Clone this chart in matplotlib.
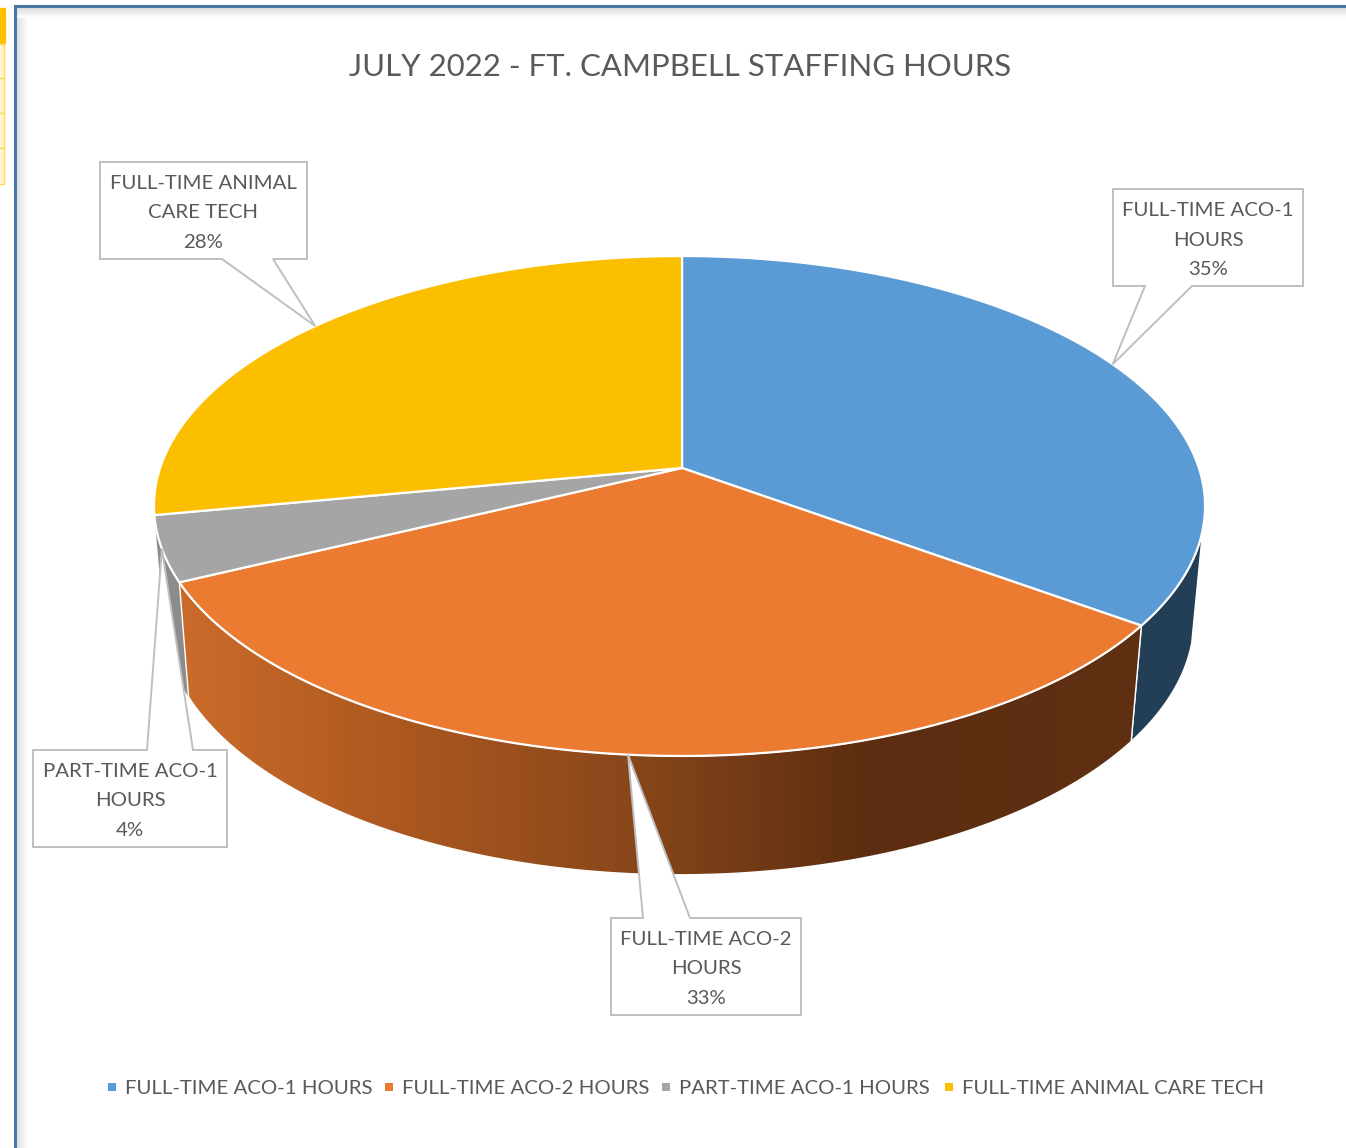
import matplotlib
matplotlib.use('Agg')
import matplotlib.pyplot as plt
from matplotlib.colors import LinearSegmentedColormap
from matplotlib.patches import Polygon, Rectangle
import numpy as np

plt.rcParams['font.family'] = ['Lato', 'DejaVu Sans']

title = 'JULY 2022 - FT. CAMPBELL STAFFING HOURS'
categories = ['FULL-TIME ACO-1 HOURS', 'FULL-TIME ACO-2 HOURS', 'PART-TIME ACO-1 HOURS', 'FULL-TIME ANIMAL CARE TECH']
callout_names = ['FULL-TIME ACO-1\nHOURS', 'FULL-TIME ACO-2\nHOURS', 'PART-TIME ACO-1\nHOURS', 'FULL-TIME ANIMAL\nCARE TECH']
shares = [35.0, 32.8, 4.2, 28.0]

top_colors = ['#5B9BD5', '#EB7B30', '#A5A5A5', '#FBBF00']
text_color = '#595959'
line_color = '#BFBFBF'

# the pie sits in perspective, so the rim is a circle through a simple projection
TOP = dict(cx=682, cy=468, a=519.4, b=244.2, lean=2.5)
BOTTOM = dict(cx=679, cy=580, a=509, b=250, lean=0)
TILT = 0.152
FIRST_VISIBLE = 104  # degrees clockwise from 12 o'clock where the side wall appears
LAST_VISIBLE = 259


def rim(deg, cx, cy, a, b, lean):
    t = np.radians(deg)
    u, v = np.sin(t), np.cos(t)
    w = 1 + TILT * v
    return np.column_stack([cx + a * u / w - lean * np.abs(u), cy - b * v / w])


def arc(start, end, ring):
    return rim(np.linspace(start, end, 200), **ring)


def wall(start, end):
    return np.vstack([arc(start, end, TOP), arc(end, start, BOTTOM)])


fig = plt.figure(figsize=(13.46, 11.48), dpi=100)
ax = fig.add_axes([0, 0, 1, 1])
ax.set_xlim(0, 1346)
ax.set_ylim(1148, 0)
ax.axis('off')

edges = 360 * np.cumsum([0] + shares) / sum(shares)
mids = (edges[:-1] + edges[1:]) / 2

# spreadsheet cells showing at the left of the screenshot
ax.add_patch(Rectangle((0, 8), 5, 35, color='#FFC000', zorder=1))
for y0, y1 in [(44, 78), (78, 113), (113, 148), (148, 184)]:
    ax.add_patch(Rectangle((-2, y0), 6, y1 - y0, fc='#FFF2CC', ec='#FFD966', lw=1, zorder=1))

# soft inner shadow of the chart frame
shade = LinearSegmentedColormap.from_list('shade', ['#DEDEDE', '#FFFFFF'])
fade = np.linspace(0, 1, 32)
ax.imshow(fade[None, :], extent=(16, 28, 1148, 8), cmap=shade, aspect='auto', zorder=1)
ax.imshow(fade[:, None], extent=(16, 1346, 18, 8), cmap=shade, aspect='auto', origin='upper', zorder=1)
ax.plot([14.5, 14.5, 1346], [1148, 6, 6], color='#4A78A6', lw=2.2, solid_joinstyle='miter', zorder=2)

# side walls
ax.add_patch(Polygon(wall(FIRST_VISIBLE, edges[1]), fc='#223F57', ec='white', lw=1, zorder=3))
ax.add_patch(Polygon(wall(edges[2], LAST_VISIBLE), fc='#8C8C8C', ec='none', zorder=3))

orange_shape = wall(edges[1], edges[2])
stops = [(170, '#CC6C2B'), (400, '#AC5820'), (640, '#87461A'), (870, '#5C2D10'), (1150, '#5F3012')]
span = stops[-1][0] - stops[0][0]
orange_map = LinearSegmentedColormap.from_list('wall', [((x - stops[0][0]) / span, c) for x, c in stops])
grad = ax.imshow(np.linspace(0, 1, 512)[None, :], extent=(stops[0][0], stops[-1][0], 900, 560),
                 cmap=orange_map, aspect='auto', zorder=3.5)
grad.set_clip_path(Polygon(orange_shape, transform=ax.transData))
ax.add_patch(Polygon(orange_shape, fc='none', ec='white', lw=1, zorder=4))

# top faces
for i, color in enumerate(top_colors):
    pts = np.vstack([[TOP['cx'], TOP['cy']], arc(edges[i], edges[i + 1], TOP)])
    ax.add_patch(Polygon(pts, fc=color, ec='white', lw=1.6, joinstyle='round', zorder=5))

# callouts, the pointer ends on the rim at the middle of each slice
boxes = [(1113, 1303, 189, 286, 1145, 1192), (611, 801, 918, 1015, 643, 690),
         (33, 227, 750, 847, 147, 193), (100, 307, 162, 259, 222, 273)]
for i, (x0, x1, y0, y1, p0, p1) in enumerate(boxes):
    tip = rim(mids[i], **TOP)[0]
    if tip[1] > y1:
        shape = [(x0, y0), (x1, y0), (x1, y1), (p1, y1), tip, (p0, y1), (x0, y1)]
    else:
        shape = [(x0, y0), (p0, y0), tip, (p1, y0), (x1, y0), (x1, y1), (x0, y1)]
    ax.add_patch(Polygon(shape, fc='white', ec=line_color, lw=1.4, joinstyle='miter', zorder=6))
    line1, line2 = callout_names[i].split('\n')
    xc = (x0 + x1) / 2
    for y, s in zip([y0 + 21.5, y0 + 51, y0 + 80.5], [line1, line2, f'{round(shares[i])}%']):
        ax.text(xc, y, s, color=text_color, fontsize=14.7, ha='center', va='center', zorder=7)

ax.text(680, 67, title, color=text_color, fontsize=22.4, ha='center', va='center')

# legend
marker_x = [112, 389, 666, 949]
for x, name, color in zip(marker_x, categories, top_colors):
    ax.add_patch(Rectangle((x - 4, 1083), 8, 8, color=color, lw=0))
    ax.text(x + 13, 1088, name, color=text_color, fontsize=14.7, ha='left', va='center')

ax.set_xlim(0, 1346)
ax.set_ylim(1148, 0)
fig.savefig('out.png', dpi=100, facecolor='white')
plt.close(fig)
